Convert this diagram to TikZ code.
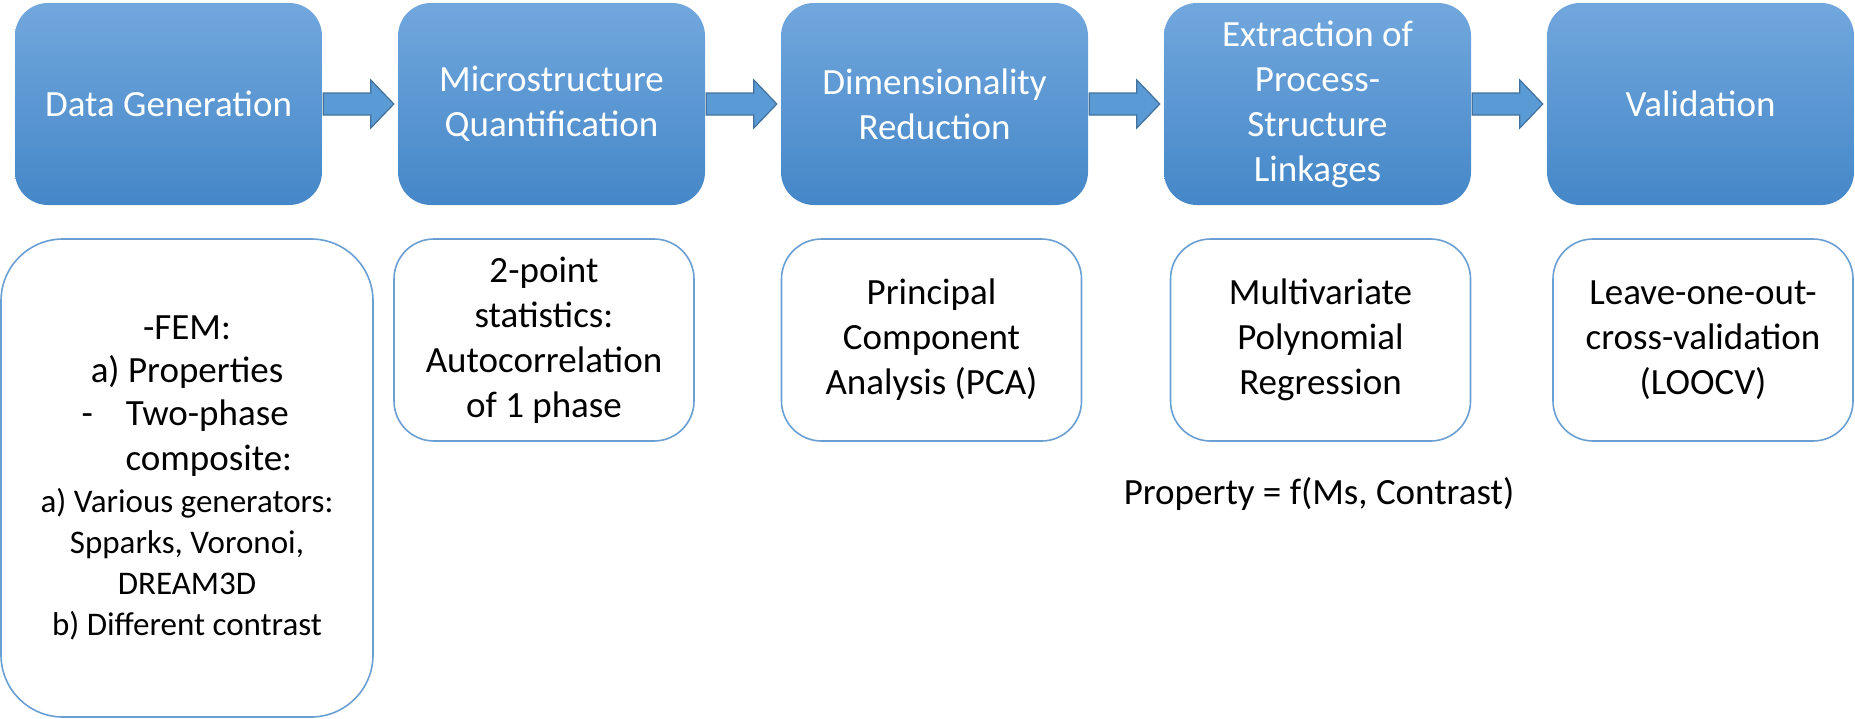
\documentclass[tikz,border=0pt]{standalone}
\usepackage{fontspec}
\setmainfont{Carlito}
\usetikzlibrary{calc}

\definecolor{steptop}{HTML}{71A7DD}
\definecolor{stepbot}{HTML}{4587C8}
\definecolor{arrowfill}{HTML}{5B9BD5}
\definecolor{arrowline}{HTML}{41719C}
\definecolor{noteline}{HTML}{6A9FD4}
\newcommand{\smallline}{\fontsize{33}{40}\selectfont}

\begin{document}
\begin{tikzpicture}[x=1pt,y=-1pt,
	stage/.style={rounded corners=33pt, top color=steptop, bottom color=stepbot,
		minimum width=307pt, minimum height=202pt, inner sep=0pt, align=center,
		text=white, font=\fontsize{37}{45}\selectfont},
	note/.style={draw=noteline, line width=1.6pt, rounded corners=40pt, fill=white,
		minimum width=300pt, minimum height=202pt, inner sep=0pt, align=center,
		font=\fontsize{37}{45}\selectfont},
	blockarrow/.style={fill=arrowfill, draw=arrowline, line width=1.2pt, line join=miter}]
	\useasboundingbox (0,0) rectangle (1855,718);
	\node [stage] (gen) at (168.5,104) {Data Generation};
	\node [stage] (quant) at (551.5,104) {Microstructure\\Quantification};
	\node [stage] (dimred) at (934.5,104) {Dimensionality\\Reduction};
	\node [stage] (link) at (1317.5,104) {Extraction of\\Process-\\Structure\\Linkages};
	\node [stage] (valid) at (1700.5,104) {Validation};
	\foreach \a/\b in {gen/quant,quant/dimred,dimred/link,link/valid}
		\draw [blockarrow] ($(\a.east)+(1,-11)$) -- ($(\b.west)+(-27,-11)$) -- ($(\b.west)+(-27,-24)$)
			-- ($(\b.west)+(-4,0)$) -- ($(\b.west)+(-27,24)$) -- ($(\b.west)+(-27,11)$)
			-- ($(\a.east)+(1,11)$) -- cycle;
	\node [note, minimum width=372pt, minimum height=478pt, rounded corners=62pt] (gennote) at (187,478)
		{-FEM:\\[-2pt]a) Properties\\[-2pt]
		\makebox[211pt][l]{-\hspace{33pt}Two-phase}\\
		\makebox[211pt][l]{\hspace{44pt}composite:}\\[-3pt]
		\smallline a) Various generators:\\[-4pt]
		\smallline Spparks, Voronoi,\\[-4pt] \smallline DREAM3D\\[-4pt] \smallline b) Different contrast};
	\node [note] (quantnote) at (544,340) {2-point\\statistics:\\Autocorrelation\\of 1 phase};
	\node [note] (dimrednote) at (931.5,340) {Principal\\Component\\Analysis (PCA)};
	\node [note] (linknote) at (1320.5,340) {Multivariate\\Polynomial\\Regression};
	\node [note] (validnote) at (1703,340) {Leave-one-out-\\cross-validation\\(LOOCV)};
	\node [font=\fontsize{37}{45}\selectfont, inner sep=0pt] (model) at (1319,494) {Property = f(Ms, Contrast)};
\end{tikzpicture}
\end{document}
